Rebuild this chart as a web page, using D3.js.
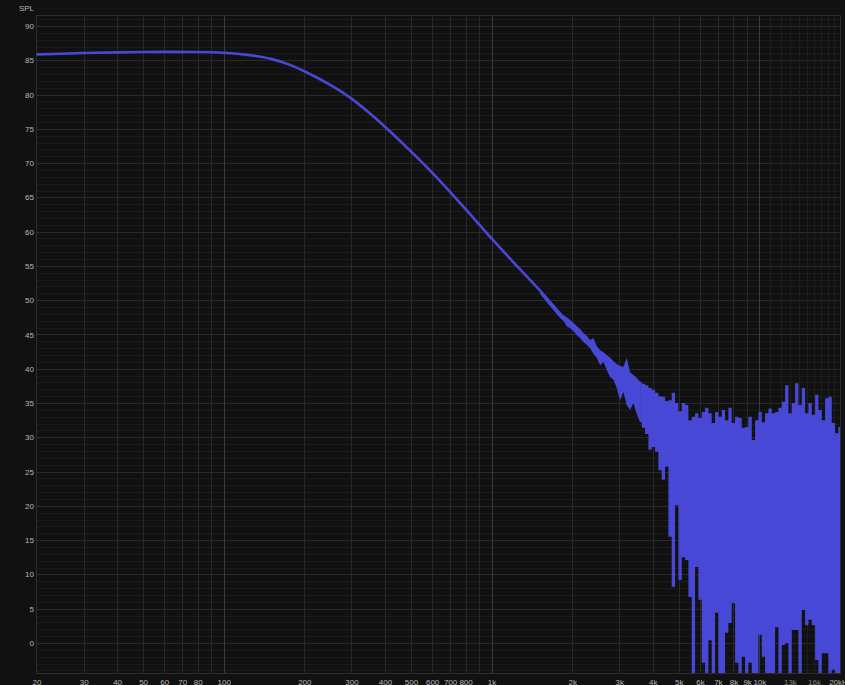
<!DOCTYPE html>
<html><head><meta charset="utf-8">
<script src="https://cdn.jsdelivr.net/npm/d3@7/dist/d3.min.js"></script>
<style>html,body{margin:0;padding:0;background:#111111;overflow:hidden}svg{display:block}</style>
</head><body><svg id="c" width="845" height="685"></svg>
<script>
// ---- data ----
const smoothFreq = [20, 25, 30, 40, 50, 60, 80, 100, 125, 150, 175, 200, 250, 300, 350, 400, 500, 600, 700, 800, 1000, 1250, 1500, 1803];
const smoothSPL  = [85.85, 85.95, 86.05, 86.15, 86.2, 86.22, 86.2, 86.1, 85.75, 85.2, 84.4, 83.4, 81.4, 79.4, 77.3, 75.3, 71.7, 68.6, 65.8, 63.3, 59.0, 54.9, 51.6, 48.0];

const bandFreq = [1518, 1654, 1803, 1855, 1909, 1965, 2022, 2081, 2141, 2203, 2267, 2333, 2401, 2471, 2543, 2617, 2693, 2771, 2852, 2934, 3019, 3107, 3197, 3290, 3386, 3484, 3586, 3690, 3797, 3907, 4021, 4137, 4258, 4382, 4509, 4640, 4775, 4914, 5057, 5204, 5355, 5511, 5671, 5836, 6005, 6180, 6359, 6544, 6734, 6930, 7132, 7339, 7553, 7772, 7998, 8231, 8472, 8718, 8972, 9233, 9501, 9778, 10061, 10354, 10655, 10965, 11284, 11612, 11949, 12296, 12654, 13023, 13401, 13791, 14191, 14604, 15029, 15465, 15915, 16378, 16855, 17345, 17850, 18368, 18902, 19451, 20000];
const bandHigh = [51.5, 49.9, 48.3, 47.8, 47.5, 47.1, 46.7, 46.2, 45.8, 45.2, 44.8, 44.2, 44.5, 43.3, 42.7, 42.4, 42.0, 41.6, 41.1, 40.7, 40.4, 40.3, 41.6, 39.5, 39.1, 38.7, 38.1, 37.8, 37.6, 37.2, 36.9, 36.5, 36.0, 35.9, 35.3, 35.4, 36.5, 35.0, 33.8, 35.0, 34.7, 32.5, 33.0, 33.5, 32.8, 33.7, 34.3, 33.5, 32.1, 33.7, 33.0, 34.0, 32.5, 34.3, 32.1, 33.0, 32.8, 31.4, 31.5, 33.0, 29.6, 32.5, 33.7, 32.2, 33.5, 34.2, 33.5, 33.7, 34.3, 35.2, 37.6, 33.5, 35.0, 37.9, 34.7, 37.2, 33.5, 35.0, 33.3, 36.2, 34.0, 32.5, 35.7, 35.9, 32.1, 30.6, 31.5];
const bandLow  = [50.9, 49.1, 47.4, 47.0, 46.2, 45.9, 45.5, 44.9, 44.5, 43.9, 43.5, 43.0, 42.2, 41.6, 40.5, 41.0, 39.8, 38.8, 38.4, 37.2, 35.4, 36.6, 34.7, 34.0, 35.0, 33.4, 32.2, 31.4, 30.5, 28.2, 28.6, 27.9, 25.2, 23.8, 25.7, 15.5, 8.2, 20.1, 9.2, 12.5, 12.1, 6.7, -10, 11.1, 6.3, -2.9, -10, 0.4, -10, 4.4, -10, -10, 1.5, 2.9, 5.8, -2.9, -10, -2.0, -10, -2.9, -10, -10, 1.2, -2.0, -10, -10, -10, 2.3, -10, -0.3, 0.0, -10, 1.9, 1.9, -10, 4.8, 2.6, 3.4, 2.6, -2.5, -10, -1.5, -1.5, -10, -3.9, -10, -10];
const bandSplitFreq = 3586; // smooth-edged band below this, column-wise spikes above

const yTickValues = [0, 5, 10, 15, 20, 25, 30, 35, 40, 45, 50, 55, 60, 65, 70, 75, 80, 85, 90];
const xTickValues = [20, 30, 40, 50, 60, 70, 80, 100, 200, 300, 400, 500, 600, 700, 800, 1000, 2000, 3000, 4000, 5000, 6000, 7000, 8000, 9000, 10000, 13000, 16000, 20000];
const xTickLabels = ["20", "30", "40", "50", "60", "70", "80", "100", "200", "300", "400", "500", "600", "700", "800", "1k", "2k", "3k", "4k", "5k", "6k", "7k", "8k", "9k", "10k", "13k", "16k", "20kHz"];
const xDimLabels = [13000, 16000];
const xGridMinor = [30, 40, 50, 60, 70, 80, 90, 200, 300, 400, 500, 600, 700, 800, 900, 2000, 3000, 4000, 5000, 6000, 7000, 8000, 9000];
const xGridFine  = [11000, 12000, 13000, 14000, 15000, 16000, 17000, 18000, 19000];
const xGridMajor = [100, 1000, 10000];

// ---- layout ----
const L = 36.5, R = 840, T = 15, B = 673;
const svg = d3.select("#c");
const x = d3.scaleLog().domain([20, 20000]).range([L, R]);
const y = d3.scaleLinear().domain([-4.38, 91.6]).range([B, T]);

svg.append("rect").attr("width", 845).attr("height", 685).attr("fill", "#111111");

svg.append("defs").append("clipPath").attr("id", "plot")
  .append("rect").attr("x", L).attr("y", T).attr("width", R - L).attr("height", B - T);

function grid(axis, cls, color) {
  const g = svg.append("g").attr("class", cls);
  g.call(axis);
  g.select(".domain").remove();
  g.selectAll("text").remove();
  g.selectAll("line").attr("stroke", color).attr("shape-rendering", "crispEdges");
  return g;
}
grid(d3.axisLeft(y).tickValues(d3.range(-4, 92)).tickSize(-(R - L)).tickFormat(""), "ymin", "#1b1b1b")
  .attr("transform", `translate(${L},0)`);
grid(d3.axisLeft(y).tickValues(yTickValues).tickSize(-(R - L)).tickFormat(""), "ymaj", "#2a2a2a")
  .attr("transform", `translate(${L},0)`);
grid(d3.axisBottom(x).tickValues(xGridFine).tickSize(-(B - T)).tickFormat(""), "xfine", "#1e1e1e")
  .attr("transform", `translate(0,${B})`);
grid(d3.axisBottom(x).tickValues(xGridMinor).tickSize(-(B - T)).tickFormat(""), "xmin", "#282828")
  .attr("transform", `translate(0,${B})`);
grid(d3.axisBottom(x).tickValues(xGridMajor).tickSize(-(B - T)).tickFormat(""), "xmaj", "#3a3a3a")
  .attr("transform", `translate(0,${B})`);

svg.append("rect").attr("x", L).attr("y", T).attr("width", R - L).attr("height", B - T)
  .attr("fill", "none").attr("stroke", "#2c2c2c").attr("shape-rendering", "crispEdges");

// data marks
const plot = svg.append("g").attr("clip-path", "url(#plot)");
const band = bandFreq.map((f, i) => ({f, hi: bandHigh[i], lo: bandLow[i]}));
const areaGen = d3.area().x(d => x(d.f)).y0(d => y(d.lo)).y1(d => y(d.hi));
plot.append("path").datum(band.filter(d => d.f <= bandSplitFreq))
  .attr("fill", "#4848d6").attr("d", areaGen.curve(d3.curveLinear)(band.filter(d => d.f <= bandSplitFreq)));
plot.append("path").datum(band.filter(d => d.f >= bandSplitFreq))
  .attr("fill", "#4848d6").attr("d", areaGen.curve(d3.curveStep)(band.filter(d => d.f >= bandSplitFreq)));

const smooth = smoothFreq.map((f, i) => ({f, v: smoothSPL[i]}));
plot.append("path").datum(smooth)
  .attr("fill", "none").attr("stroke", "#4848d6").attr("stroke-width", 2.6)
  .attr("stroke-linecap", "round")
  .attr("d", d3.line().curve(d3.curveMonotoneX).x(d => x(d.f)).y(d => y(d.v)));

// axes labels
const font = "'Liberation Sans', Arial, sans-serif";
const ya = svg.append("g").attr("transform", `translate(${L},0)`)
  .call(d3.axisLeft(y).tickValues(yTickValues).tickSize(0).tickFormat(d => d));
ya.select(".domain").remove();
ya.selectAll("text").attr("x", -2.5).attr("dy", "0.32em")
  .attr("fill", "#b8b8b8").style("font-family", font).style("font-size", "8px");

const xa = svg.append("g").attr("transform", `translate(0,${B})`)
  .call(d3.axisBottom(x).tickValues(xTickValues).tickSize(0)
    .tickFormat(d => xTickLabels[xTickValues.indexOf(d)]));
xa.select(".domain").remove();
xa.selectAll("text").attr("y", 11.5).attr("dy", 0)
  .attr("fill", d => xDimLabels.includes(d) ? "#888888" : "#b8b8b8")
  .style("font-family", font).style("font-size", "8px");

svg.append("text").attr("x", 34).attr("y", 10.5).attr("text-anchor", "end")
  .attr("fill", "#b8b8b8").style("font-family", font).style("font-size", "8px").text("SPL");
</script>
</body></html>
